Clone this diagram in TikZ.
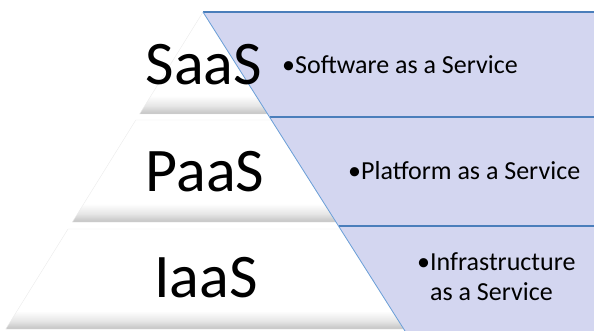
\documentclass[tikz,border=0pt]{standalone}
\usepackage{fontspec}
\setmainfont{Carlito}
\usepackage{tikz}
\usepackage{xcolor}
\definecolor{bandfill}{HTML}{D3D6F0}
\definecolor{bandline}{HTML}{4A7EBB}
\definecolor{slopeline}{HTML}{6A9FD8}
\pgfdeclareverticalshading{tiershade}{100bp}{color(0bp)=(black!24); color(25bp)=(black!24); color(29bp)=(black!10); color(34bp)=(white); color(100bp)=(white)}
\begin{document}
\begin{tikzpicture}[x=1pt,y=-1pt,
  band/.style={fill=bandfill},
  tier/.style={shading=tiershade,draw=black!8},
  abbr/.style={font=\fontsize{62}{62}\selectfont,anchor=base,inner sep=0pt},
  desc/.style={font=\fontsize{26}{30}\selectfont,anchor=base west,inner sep=0pt,align=left}]
  \useasboundingbox (0,0) rectangle (594,331);
  % pyramid tiers
  \shade[tier] (203,12) -- (267.6,114) -- (139.6,114) -- cycle;
  \shade[tier] (135.8,120) -- (271.4,120) -- (335.9,222) -- (72.4,222) -- cycle;
  \shade[tier] (68.0,229) -- (340.4,229) -- (403.7,329) -- (5.8,329) -- cycle;
  % blue bands
  \fill[band] (203,12) -- (594,12) -- (594,117) -- (269.5,117) -- cycle;
  \fill[band] (269.5,117) -- (594,117) -- (594,226) -- (338.5,226) -- cycle;
  \fill[band] (338.5,226) -- (594,226) -- (594,331) -- (405,331) -- cycle;
  \draw[bandline,line width=1.5pt] (203,12) -- (594,12);
  \draw[bandline,line width=1.5pt] (269.5,117) -- (594,117);
  \draw[bandline,line width=1.5pt] (338.5,226) -- (594,226);
  \draw[slopeline,line width=0.8pt] (203,12) -- (405,331);
  % labels
  \node[abbr] (saas) at (204,85) {SaaS};
  \node[abbr] (paas) at (205,192) {PaaS};
  \node[abbr] (iaas) at (206,297) {IaaS};
  \node[desc] (saasdesc) at (282,74) {\textbullet Software as a Service};
  \node[desc] (paasdesc) at (348,180) {\textbullet Platform as a Service};
  \node[desc] (iaasdesc) at (417,300) {\textbullet Infrastructure\\\phantom{\textbullet}as a Service};
\end{tikzpicture}
\end{document}
